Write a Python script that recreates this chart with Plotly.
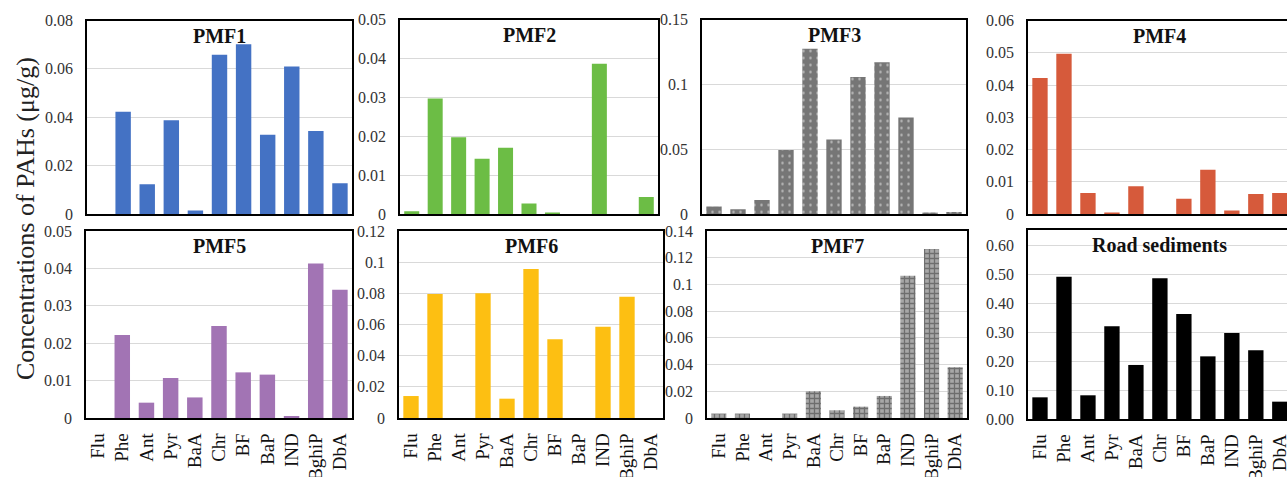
import plotly.graph_objects as go

# ---------------- data ----------------
categories = ["Flu", "Phe", "Ant", "Pyr", "BaA", "Chr", "BF", "BaP", "IND", "BghiP", "DbA"]

pmf1 = [0, 0.0423, 0.0123, 0.0388, 0.0014, 0.0658, 0.0702, 0.0328, 0.0610, 0.0343, 0.0127]
pmf2 = [0.0007, 0.0297, 0.0197, 0.0142, 0.0170, 0.0027, 0.0002, 0, 0.0386, 0, 0.0044]
pmf3 = [0.0057, 0.0036, 0.0108, 0.0493, 0.1274, 0.0575, 0.1056, 0.1171, 0.0745, 0.0005, 0.0015]
pmf4 = [0.0422, 0.0497, 0.0065, 0.0002, 0.0086, 0, 0.0047, 0.0137, 0.0011, 0.0062, 0.0065]
pmf5 = [0, 0.0222, 0.0041, 0.0107, 0.0055, 0.0246, 0.0122, 0.0116, 0.0004, 0.0413, 0.0343]
pmf6 = [0.0141, 0.0795, 0, 0.0801, 0.0124, 0.0956, 0.0506, 0, 0.0585, 0.0778, 0]
pmf7 = [0.0033, 0.0033, 0, 0.0033, 0.0200, 0.0058, 0.0085, 0.0165, 0.1065, 0.1265, 0.0380]
road = [0.075, 0.4925, 0.082, 0.3206, 0.187, 0.4867, 0.3633, 0.2168, 0.2976, 0.2376, 0.060]

titles = ["PMF1", "PMF2", "PMF3", "PMF4", "PMF5", "PMF6", "PMF7", "Road sediments"]

ticks1 = [0, 0.02, 0.04, 0.06, 0.08]
ticks2 = [0, 0.01, 0.02, 0.03, 0.04, 0.05]
ticks3 = [0, 0.05, 0.1, 0.15]
ticks4 = [0, 0.01, 0.02, 0.03, 0.04, 0.05, 0.06]
ticks5 = [0, 0.01, 0.02, 0.03, 0.04, 0.05]
ticks6 = [0, 0.02, 0.04, 0.06, 0.08, 0.1, 0.12]
ticks7 = [0, 0.02, 0.04, 0.06, 0.08, 0.1, 0.12, 0.14]
ticks8 = [0, 0.1, 0.2, 0.3, 0.4, 0.5, 0.6]
tick_labels8 = ["0.00", "0.10", "0.20", "0.30", "0.40", "0.50", "0.60"]

y_title = "Concentrations of PAHs (μg/g)"

# ---------------- styling / layout ----------------
W, H = 1287, 477
FONT = "Liberation Serif, Times New Roman, serif"

series = [pmf1, pmf2, pmf3, pmf4, pmf5, pmf6, pmf7, road]
tick_sets = [ticks1, ticks2, ticks3, ticks4, ticks5, ticks6, ticks7, ticks8]
tick_texts = [None] * 7 + [tick_labels8]
ymax = [0.08, 0.05, 0.15, 0.06, 0.05, 0.12, 0.14, 0.654]

# panel rectangles in pixels: (left, right, top, bottom)
rects = [
    (87, 352, 20.5, 214),
    (400, 658, 19.5, 214),
    (702, 966, 19.5, 214),
    (1028, 1287, 20.5, 214),
    (86, 352, 231, 418),
    (399, 663, 231, 418),
    (707, 967, 231, 418),
    (1028, 1287, 230, 419),
]
clipped = [False, False, False, True, False, False, False, True]

colors = ["#4472C4", "#6CBD45", "#7A7A7A", "#D65A3B", "#A274B4", "#FDBF12", "#A6A6A6", "#000000"]
patterns = [None, None,
            dict(shape=".", fgcolor="#FFFFFF", bgcolor="#767676", size=7, solidity=0.1),
            None, None, None,
            dict(shape="+", fgcolor="#333333", bgcolor="#A8A8A8", size=5, solidity=0.45),
            None]

fig = go.Figure()
layout = dict(
    width=W, height=H,
    margin=dict(l=0, r=0, t=0, b=0, autoexpand=False),
    paper_bgcolor="white", plot_bgcolor="white",
    showlegend=False,
    bargap=0.36,
    font=dict(family=FONT, color="#222222"),
)
annotations = []

for i in range(8):
    n = i + 1
    sx = "" if n == 1 else str(n)
    xa, ya = "x" + sx, "y" + sx
    marker = dict(color=colors[i], line=dict(width=0))
    if patterns[i] is not None:
        marker["pattern"] = patterns[i]
    fig.add_trace(go.Bar(x=categories, y=series[i], xaxis=xa, yaxis=ya, marker=marker,
                         hoverinfo="skip"))

    l, r, t, b = rects[i]
    xdom = [l / W, min(r / W, 1.0)]
    ydom = [1 - b / H, 1 - t / H]
    bottom_row = i >= 4
    xr = [-0.5, 10.3] if clipped[i] else [-0.5, 10.5]

    layout["xaxis" + sx] = dict(
        domain=xdom, anchor=ya, type="category",
        categoryorder="array", categoryarray=categories,
        range=xr, showgrid=False, zeroline=False, automargin=False,
        showline=True, linecolor="black", linewidth=1.5, mirror=True,
        ticks="", showticklabels=bottom_row, tickangle=-90,
        tickfont=dict(family=FONT, size=19, color="#111111"),
        ticklabelstandoff=6,
    )
    ya_dict = dict(
        domain=ydom, anchor=xa, range=[0, ymax[i]], automargin=False,
        tickmode="array", tickvals=tick_sets[i],
        showgrid=True, gridcolor="#D9D9D9", gridwidth=1, zeroline=False,
        showline=True, linecolor="black", linewidth=1.5, mirror=not clipped[i],
        ticks="", tickfont=dict(family=FONT, size=16, color="#333333"),
        ticklabelstandoff=9,
    )
    if tick_texts[i] is not None:
        ya_dict["ticktext"] = tick_texts[i]
    layout["yaxis" + sx] = ya_dict

    annotations.append(dict(
        text="<b>" + titles[i] + "</b>", x=5, xref=xa, y=1, yref=ya + " domain",
        yanchor="top", xanchor="center", yshift=-2, showarrow=False,
        font=dict(family=FONT, size=20, color="#111111"),
    ))

annotations.append(dict(
    text=y_title, x=25 / W, y=1 - 219 / H, xref="paper", yref="paper",
    xanchor="center", yanchor="middle", textangle=-90, showarrow=False,
    font=dict(family=FONT, size=26, color="#222222"),
))
layout["annotations"] = annotations
fig.update_layout(**layout)

fig.write_html(
    "out.html",
    config={"displayModeBar": False},
    post_script="document.body.style.margin='0px';document.body.style.overflow='hidden';",
)
